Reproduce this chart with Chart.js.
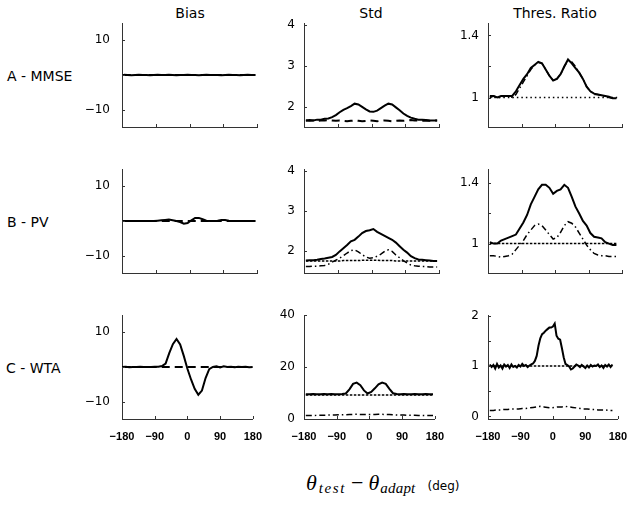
<!DOCTYPE html>
<html>
<head>
<meta charset="utf-8">
<script src="https://cdn.jsdelivr.net/npm/chart.js@4.4.1/dist/chart.umd.min.js"></script>
<style>
body { margin: 0; background: #fff; }
#fig { position: relative; width: 635px; height: 505px; overflow: hidden; background: #fff; font-family: 'DejaVu Sans'; color: #000; }
#fig canvas { position: absolute; }
.lbl { position: absolute; white-space: nowrap; font-size: 14px; line-height: 16px; }
.ttl { position: absolute; width: 140px; text-align: center; font-size: 14px; line-height: 16px; }
#xlab { position: absolute; left: 306px; top: 471px; white-space: nowrap; font-family: 'Liberation Serif'; font-style: italic; font-size: 22px; line-height: 24px; }
#xlab sub { font-size: 15px; vertical-align: -3px; }
#xlab .s1 { margin-left: 2px; letter-spacing: 1.6px; }
#xlab .s2 { margin-left: 1px; letter-spacing: 0.2px; }
#xlab .op { font-style: normal; margin: 0 5px 0 5px; }
#xlab .deg { font-family: 'DejaVu Sans'; font-style: normal; font-size: 12px; margin-left: 12px; }
</style>
</head>
<body>
<div id="fig">
	<div class="ttl" style="left:120px;top:5px">Bias</div>
	<div class="ttl" style="left:301px;top:5px">Std</div>
	<div class="ttl" style="left:485px;top:5px">Thres. Ratio</div>
	<div class="lbl" style="left:7px;top:68px">A - MMSE</div>
	<div class="lbl" style="left:7px;top:214px">B - PV</div>
	<div class="lbl" style="left:6px;top:360px">C - WTA</div>
	<div id="xlab">θ<sub class="s1">test</sub><span class="op">−</span>θ<sub class="s2">adapt</sub><span class="deg">(deg)</span></div>
</div>
<script>
'use strict'

// x positions (deg)
const angles = [-175, -165, -155, -145, -135, -125, -115, -105, -95, -85, -75, -65, -55, -45, -35, -25, -15, -5, 5, 15, 25, 35, 45, 55, 65, 75, 85, 95, 105, 115, 125, 135, 145, 155, 165, 175];
const anglesFull = [-180, -170, -160, -150, -140, -130, -120, -110, -100, -90, -80, -70, -60, -50, -40, -30, -20, -10, 0, 10, 20, 30, 40, 50, 60, 70, 80, 90, 100, 110, 120, 130, 140, 150, 160, 170, 180];
const anglesThres = [-175, -165, -155, -145, -135, -125, -115, -105, -95, -85, -75, -65, -55, -45, -35, -25, -15, -5, 5, 15, 25, 35, 45, 55, 65, 75, 85, 95, 105, 115, 125, 135, 145, 155, 165];
const anglesFine = [-175, -170, -165, -160, -155, -150, -145, -140, -135, -130, -125, -120, -115, -110, -105, -100, -95, -90, -85, -80, -75, -70, -65, -60, -55, -50, -45, -40, -35, -30, -25, -20, -15, -10, -5, 0, 5, 10, 15, 20, 25, 30, 35, 40, 45, 50, 55, 60, 65, 70, 75, 80, 85, 90, 95, 100, 105, 110, 115, 120, 125, 130, 135, 140, 145, 150, 155, 160, 165];
const flatBias = [-178, 176];
const flatStd = [-175, 175];
const flatThres = [-175, 167];

const xTicks = [-180, -90, 0, 90, 180];

// A - MMSE
const biasMmseSolid = [0.1, 0, -0.1, 0, 0.1, 0, 0, -0.1, 0, 0.1, 0, 0, 0.1, 0, -0.1, 0, 0, 0.1, 0, 0, -0.1, 0, 0.1, 0, 0, 0, -0.1, 0, 0.1, 0, 0, -0.1, 0, 0.1, 0, 0];
const biasMmseDashed = [0, 0];
const stdMmseSolid = [1.66, 1.67, 1.66, 1.68, 1.68, 1.70, 1.71, 1.74, 1.79, 1.86, 1.92, 1.96, 2.01, 2.07, 2.05, 1.99, 1.93, 1.88, 1.87, 1.90, 1.96, 2.02, 2.07, 2.05, 1.98, 1.91, 1.83, 1.77, 1.73, 1.70, 1.68, 1.68, 1.67, 1.66, 1.66, 1.66];
const stdMmseDashed = [1.66, 1.65, 1.66, 1.65, 1.66, 1.66, 1.67, 1.66, 1.65, 1.66, 1.65, 1.64, 1.65, 1.66, 1.65, 1.64, 1.65, 1.66, 1.65, 1.64, 1.65, 1.66, 1.65, 1.64, 1.65, 1.66, 1.65, 1.66, 1.67, 1.66, 1.66, 1.65, 1.66, 1.65, 1.66, 1.66];
const thrMmseSolid = [1.01, 1.01, 1.00, 1.01, 1.01, 1.01, 1.01, 1.04, 1.08, 1.12, 1.15, 1.19, 1.21, 1.23, 1.22, 1.18, 1.14, 1.11, 1.12, 1.15, 1.20, 1.245, 1.22, 1.19, 1.16, 1.12, 1.07, 1.04, 1.025, 1.02, 1.015, 1.01, 1.005, 0.995, 0.995];
const thrMmseDashDot = [1.00, 1.01, 1.00, 1.00, 1.01, 1.01, 1.00, 1.02, 1.06, 1.10, 1.14, 1.18, 1.21, 1.225, 1.22, 1.18, 1.14, 1.11, 1.12, 1.15, 1.20, 1.24, 1.23, 1.20, 1.16, 1.12, 1.07, 1.04, 1.02, 1.02, 1.01, 1.01, 1.00, 0.995, 0.995];
const thrMmseDotted = [1, 1];

// B - PV
const biasPvSolid = [0, 0, 0, 0, 0, 0, 0, 0, 0, 0.1, 0.2, 0.3, 0.4, 0.2, 0, -0.3, -0.8, -0.6, 0.2, 0.9, 0.9, 0.5, 0.1, 0, 0, 0.1, 0.3, 0.3, 0.1, 0, 0, 0, 0, 0, 0, 0];
const biasPvDashed = [0, 0];
const stdPvSolid = [1.76, 1.77, 1.77, 1.78, 1.80, 1.81, 1.83, 1.85, 1.90, 1.99, 2.07, 2.15, 2.24, 2.28, 2.36, 2.45, 2.50, 2.52, 2.55, 2.48, 2.43, 2.38, 2.33, 2.28, 2.21, 2.12, 2.03, 1.96, 1.87, 1.82, 1.79, 1.78, 1.77, 1.76, 1.75, 1.75];
const stdPvDashDot = [1.61, 1.61, 1.62, 1.62, 1.63, 1.64, 1.67, 1.72, 1.77, 1.82, 1.88, 1.95, 2.01, 2.03, 1.98, 1.91, 1.85, 1.82, 1.83, 1.87, 1.92, 1.99, 2.03, 1.99, 1.90, 1.83, 1.76, 1.70, 1.65, 1.63, 1.62, 1.61, 1.61, 1.60, 1.60, 1.60];
const stdPvDotted = [1.75, 1.75, 1.75, 1.75, 1.75, 1.75, 1.75, 1.75, 1.75, 1.75, 1.76, 1.76, 1.76, 1.76, 1.76, 1.77, 1.77, 1.77, 1.77, 1.77, 1.76, 1.76, 1.76, 1.76, 1.75, 1.75, 1.75, 1.75, 1.75, 1.75, 1.75, 1.75, 1.75, 1.75, 1.75, 1.75];
const thrPvSolid = [1.01, 1.00, 1.00, 1.02, 1.03, 1.04, 1.05, 1.06, 1.10, 1.14, 1.19, 1.26, 1.31, 1.36, 1.39, 1.39, 1.37, 1.33, 1.35, 1.36, 1.39, 1.37, 1.31, 1.245, 1.20, 1.15, 1.12, 1.07, 1.045, 1.04, 1.035, 1.01, 1.00, 0.99, 0.99];
const thrPvDashDot = [0.92, 0.92, 0.915, 0.91, 0.915, 0.92, 0.93, 0.96, 0.99, 1.02, 1.06, 1.09, 1.12, 1.13, 1.12, 1.09, 1.06, 1.03, 1.04, 1.075, 1.12, 1.145, 1.135, 1.11, 1.07, 1.03, 0.99, 0.96, 0.935, 0.925, 0.92, 0.92, 0.915, 0.915, 0.915];
const thrPvDotted = [1, 1];

// C - WTA
const biasWtaSolid = [0, 0.1, -0.1, 0, 0, 0.1, 0, 0, 0, 0.1, 0.1, 0.3, 1.0, 4.0, 6.6, 8.1, 6.5, 3.2, -0.5, -3.6, -6.3, -8.0, -6.8, -3.2, -0.6, 0, 0.2, -0.1, 0.2, 0, 0.1, -0.1, 0.1, 0, 0.1, -0.1, 0];
const biasWtaDashed = [0, 0];
const stdWtaSolid = [9.5, 9.5, 9.6, 9.5, 9.5, 9.6, 9.5, 9.6, 9.5, 9.5, 9.6, 9.8, 11.4, 13.5, 14.0, 13.0, 11.0, 9.8, 10.4, 11.8, 13.3, 14.0, 13.5, 11.6, 9.9, 9.6, 9.5, 9.6, 9.5, 9.5, 9.6, 9.5, 9.5, 9.6, 9.5, 9.5];
const stdWtaDotted = [9.2, 9.2];
const stdWtaDashDot = [1.3, 1.3, 1.35, 1.4, 1.4, 1.45, 1.5, 1.5, 1.55, 1.6, 1.6, 1.65, 1.7, 1.75, 1.8, 1.75, 1.7, 1.7, 1.7, 1.75, 1.8, 1.8, 1.75, 1.7, 1.6, 1.55, 1.5, 1.5, 1.45, 1.4, 1.4, 1.35, 1.35, 1.3, 1.3, 1.3];
const thrWtaSolid = [1.03, 0.98, 1.02, 0.95, 1.04, 0.97, 1.01, 0.95, 1.03, 0.99,
	1.02, 0.96, 1.03, 0.98, 1.00, 0.97, 1.02, 0.99, 1.04, 1.00,
	1.02, 0.98, 1.01, 1.03, 1.05, 1.10, 1.20, 1.40, 1.55, 1.63,
	1.66, 1.70, 1.73, 1.76, 1.76, 1.78, 1.84, 1.60, 1.54, 1.52,
	1.35, 1.17, 1.04, 1.02, 0.99, 0.93, 0.95, 0.99, 1.03, 1.01,
	0.98, 1.02, 0.99, 0.96, 1.01, 0.97, 1.02, 0.99, 1.01, 1.00,
	1.03, 0.98, 1.01, 0.96, 1.02, 0.99, 1.03, 0.98, 1.03];
const thrWtaDotted = [1, 1];
const thrWtaDashDot = [0.12, 0.12, 0.13, 0.13, 0.14, 0.14, 0.15, 0.15, 0.15, 0.16, 0.16, 0.17, 0.18, 0.19, 0.2, 0.19, 0.18, 0.17, 0.18, 0.19, 0.19, 0.2, 0.19, 0.18, 0.17, 0.16, 0.15, 0.15, 0.14, 0.14, 0.13, 0.13, 0.13, 0.12, 0.12];

// y tick values and their labels
const biasTicks = [-10, 0, 10];
const biasLabels = {'-10': '−10', '10': '10'};
const stdTicks = [2, 3, 4];
const stdLabels = {'2': '2', '3': '3', '4': '4'};
const stdWtaTicks = [0, 20, 40];
const stdWtaLabels = {'0': '0', '20': '20', '40': '40'};
const thrTicks = [1, 1.2, 1.4];
const thrLabels = {'1': '1', '1.4': '1.4'};
const thrWtaTicks = [0, 0.5, 1, 1.5, 2];
const thrWtaLabels = {'0': '0', '1': '1', '2': '2'};

const ink = '#000';
const axisColor = '#333';

const solid = {borderWidth: 2, borderDash: []};
const dashed = {borderWidth: 2, borderDash: [8, 5]};
const dashDot = {borderWidth: 1.5, borderDash: [6, 3, 1.5, 3]};
const dotted = {borderWidth: 1.5, borderDash: [1.5, 3]};
const dottedDense = {borderWidth: 1.5, borderDash: [2.5, 1.5]};

const pts = (xs, ys) => xs.map((x, i) => ({x: x, y: ys[i]}));

const line = (xs, ys, style) => Object.assign({
	data: pts(xs, ys),
	borderColor: ink,
	pointRadius: 0,
	tension: 0,
	fill: false,
}, style);

// small tick marks pointing into the plot
const inwardTicks = {
	id: 'inwardTicks',
	afterDraw(chart) {
		const {ctx, chartArea: {left, bottom}} = chart;
		const xs = chart.scales.x, ys = chart.scales.y;
		ctx.save();
		ctx.strokeStyle = axisColor;
		ctx.lineWidth = 1;
		ctx.beginPath();
		xs.ticks.forEach(t => {
			const px = Math.round(xs.getPixelForValue(t.value)) + 0.5;
			ctx.moveTo(px, bottom);
			ctx.lineTo(px, bottom - 3);
		});
		ys.ticks.forEach(t => {
			const py = Math.round(ys.getPixelForValue(t.value)) + 0.5;
			ctx.moveTo(left, py);
			ctx.lineTo(left + 3, py);
		});
		ctx.stroke();
		ctx.restore();
	},
};

const fig = document.getElementById('fig');

// canvas margins are larger than any label padding, so the plot area lands exactly on (left, top, w, h)
function makePanel(p) {
	const padTop = 26, padRight = 16, axisW = 50, axisH = 30;
	const cv = document.createElement('canvas');
	cv.width = p.w + axisW + padRight;
	cv.height = p.h + padTop + axisH;
	cv.style.left = (p.left - axisW) + 'px';
	cv.style.top = (p.top - padTop) + 'px';
	fig.appendChild(cv);

	return new Chart(cv, {
		type: 'line',
		data: {datasets: p.datasets},
		options: {
			responsive: false,
			animation: false,
			events: [],
			layout: {padding: {top: padTop, right: padRight, left: 0, bottom: 0}},
			plugins: {legend: {display: false}, tooltip: {enabled: false}},
			scales: {
				x: {
					type: 'linear',
					min: -180,
					max: 180,
					afterBuildTicks: s => { s.ticks = xTicks.map(v => ({value: v})); },
					afterFit: s => { s.height = axisH; },
					grid: {display: false, drawTicks: false, tickLength: 0},
					border: {display: true, color: axisColor, width: 1},
					ticks: {
						display: p.xLabels,
						padding: 11,
						maxRotation: 0,
						autoSkip: false,
						color: ink,
						font: {family: 'Liberation Sans', size: 11, weight: 'bold'},
						callback: v => v < 0 ? '−' + (-v) : String(v),
					},
				},
				y: {
					type: 'linear',
					min: p.yMin,
					max: p.yMax,
					afterBuildTicks: s => { s.ticks = p.yTicks.map(v => ({value: v})); },
					afterFit: s => { s.width = axisW; },
					grid: {display: false, drawTicks: false, tickLength: 0},
					border: {display: true, color: axisColor, width: 1},
					ticks: {
						padding: p.yPad,
						autoSkip: false,
						color: ink,
						font: {family: 'DejaVu Sans', size: 12},
						callback: v => p.yLabels[String(v)] || '',
					},
				},
			},
		},
		plugins: [inwardTicks],
	});
}

const colLeft = [122, 304, 488];
const colW = [135, 135, 134];
const rowTop = [23, 169, 315];
const plotH = 104;

const panels = [
	// row A
	{row: 0, col: 0, yMin: -15, yMax: 15, yTicks: biasTicks, yLabels: biasLabels, yPad: 12, datasets: [
		line(angles, biasMmseSolid, solid), line(flatBias, biasMmseDashed, dashed)]},
	{row: 0, col: 1, yMin: 1.5, yMax: 4.04, yTicks: stdTicks, yLabels: stdLabels, yPad: 9, datasets: [
		line(angles, stdMmseSolid, solid), line(angles, stdMmseDashed, dashed)]},
	{row: 0, col: 2, yMin: 0.81, yMax: 1.48, yTicks: thrTicks, yLabels: thrLabels, yPad: 9, datasets: [
		line(anglesThres, thrMmseSolid, solid), line(anglesThres, thrMmseDashDot, dashDot), line(flatThres, thrMmseDotted, dotted)]},
	// row B
	{row: 1, col: 0, yMin: -15, yMax: 15, yTicks: biasTicks, yLabels: biasLabels, yPad: 12, datasets: [
		line(angles, biasPvSolid, solid), line(flatBias, biasPvDashed, dashed)]},
	{row: 1, col: 1, yMin: 1.45, yMax: 4.05, yTicks: stdTicks, yLabels: stdLabels, yPad: 9, datasets: [
		line(angles, stdPvSolid, solid), line(angles, stdPvDashDot, dashDot), line(angles, stdPvDotted, dottedDense)]},
	{row: 1, col: 2, yMin: 0.805, yMax: 1.495, yTicks: thrTicks, yLabels: thrLabels, yPad: 9, datasets: [
		line(anglesThres, thrPvSolid, solid), line(anglesThres, thrPvDashDot, dashDot), line(flatThres, thrPvDotted, dottedDense)]},
	// row C
	{row: 2, col: 0, xLabels: true, yMin: -15, yMax: 15, yTicks: biasTicks, yLabels: biasLabels, yPad: 12, datasets: [
		line(anglesFull, biasWtaSolid, solid), line(flatBias, biasWtaDashed, dashed)]},
	{row: 2, col: 1, xLabels: true, yMin: 0, yMax: 40, yTicks: stdWtaTicks, yLabels: stdWtaLabels, yPad: 9, datasets: [
		line(angles, stdWtaSolid, solid), line(flatStd, stdWtaDotted, dottedDense), line(angles, stdWtaDashDot, dashDot)]},
	{row: 2, col: 2, xLabels: true, yMin: -0.05, yMax: 2.01, yTicks: thrWtaTicks, yLabels: thrWtaLabels, yPad: 9, datasets: [
		line(anglesFine, thrWtaSolid, solid), line(flatThres, thrWtaDotted, dottedDense), line(anglesThres, thrWtaDashDot, dashDot)]},
];

panels.forEach(p => {
	makePanel(Object.assign({
		left: colLeft[p.col],
		top: rowTop[p.row],
		w: colW[p.col],
		h: plotH,
		xLabels: false,
	}, p));
});
</script>
</body>
</html>
